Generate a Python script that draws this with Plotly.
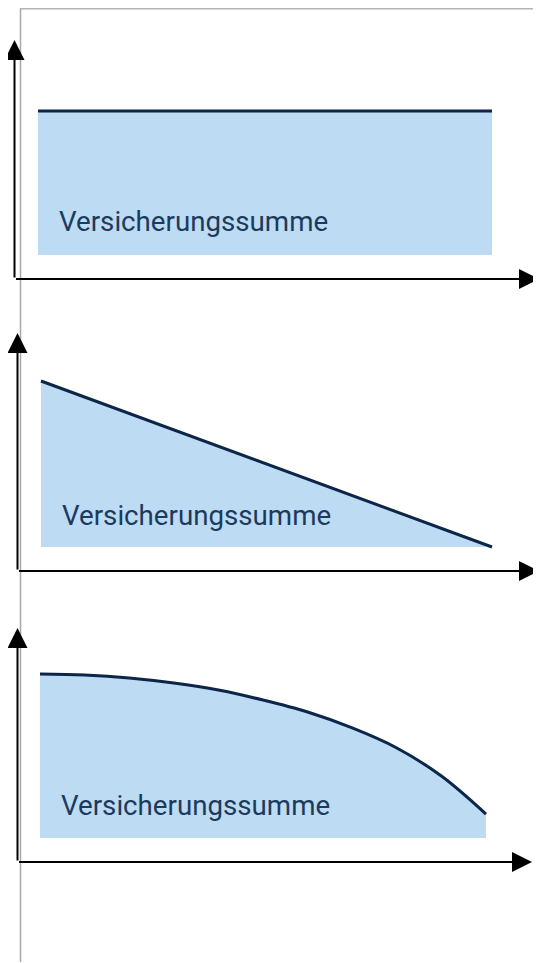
import plotly.graph_objects as go

# the page puts the plot 8px in from the top-left corner
OFF = 8
W, H = 541 - OFF, 963 - OFF

# Laufzeit (x) und Versicherungssumme in % (y)
zeit = [0, 10]
konstant = [100, 100]
linear_fallend = [100, 0]

zeit_kurve = [0, 1, 2, 3, 4, 5, 6, 7, 8, 9, 10]
annuitaetisch = [100, 99.4, 97.6, 94.5, 90.2, 84.1, 76.8, 67.1, 54.9, 37.8, 14.6]

label = "Versicherungssumme"

FILL = "#bddbf3"
LINE = "#0c2548"
TEXT = "#1c3a5e"

# pixel layout per panel (page coords): axis origin, arrow tips, x=0/10 and y=0/100, label
panels = [
    dict(ox=14.5, oy=279, tx=539, ty=40, x0=38, x1=492, y0=255, y1=111, lx=57, ly=222),
    dict(ox=17.5, oy=571, tx=539, ty=333, x0=41, x1=492, y0=547, y1=381, lx=60, ly=515),
    dict(ox=17.5, oy=862, tx=532, ty=628, x0=40, x1=486, y0=838, y1=674, lx=59, ly=805),
]
series = [(zeit, konstant, "linear"), (zeit, linear_fallend, "linear"), (zeit_kurve, annuitaetisch, "spline")]


def px_x(v):
    return (v - OFF) / W


def px_y(v):
    return 1 - (v - OFF) / H


fig = go.Figure()
annotations = []

for i, (p, (xs, ys, shape)) in enumerate(zip(panels, series)):
    n = "" if i == 0 else str(i + 1)
    xa, ya = "x" + n, "y" + n
    sx = (p["x1"] - p["x0"]) / 10
    sy = (p["y0"] - p["y1"]) / 100
    xmin = -(p["x0"] - p["ox"]) / sx
    xmax = 10 + (p["tx"] - p["x1"]) / sx
    ymin = -(p["oy"] - p["y0"]) / sy
    ymax = 100 + (p["y1"] - p["ty"]) / sy

    fig.add_trace(go.Scatter(
        x=xs, y=ys, xaxis=xa, yaxis=ya,
        mode="lines", fill="tozeroy", fillcolor=FILL,
        line=dict(color=LINE, width=3, shape=shape),
        hoverinfo="skip",
    ))

    ax_style = dict(showgrid=False, zeroline=False, showticklabels=False,
                    showline=False, ticks="", fixedrange=True)
    fig.update_layout(**{
        "xaxis" + n: dict(ax_style, domain=[px_x(p["ox"]), px_x(p["tx"])], range=[xmin, xmax],
                          anchor=ya),
        "yaxis" + n: dict(ax_style, domain=[px_y(p["oy"]), px_y(p["ty"])], range=[ymin, ymax],
                          anchor=xa),
    })

    arrow = dict(text="", showarrow=True, arrowhead=2, arrowsize=2, arrowwidth=2,
                 arrowcolor="black", xref=xa, yref=ya, axref=xa, ayref=ya, standoff=0)
    annotations.append(dict(arrow, x=xmax, y=ymin, ax=xmin, ay=ymin))
    annotations.append(dict(arrow, x=xmin, y=ymax, ax=xmin, ay=ymin))
    annotations.append(dict(
        text=label, showarrow=False, xref=xa, yref=ya,
        x=(p["lx"] - p["x0"]) / sx, y=(p["y0"] - p["ly"]) / sy,
        xanchor="left", yanchor="middle",
        font=dict(family="Roboto", size=27.7, color=TEXT),
    ))

fig.update_layout(
    width=W, height=H,
    margin=dict(l=0, r=0, t=0, b=0),
    paper_bgcolor="white", plot_bgcolor="rgba(0,0,0,0)",
    showlegend=False,
    annotations=annotations,
    shapes=[
        dict(type="line", xref="paper", yref="paper", x0=px_x(20.5), x1=px_x(20.5),
             y0=px_y(8), y1=px_y(962), line=dict(color="#a8a8a8", width=1.5), layer="below"),
        dict(type="line", xref="paper", yref="paper", x0=px_x(20), x1=1,
             y0=px_y(8.5), y1=px_y(8.5), line=dict(color="#b4b4b4", width=2), layer="below"),
    ],
)

fig.write_html("out.html")
